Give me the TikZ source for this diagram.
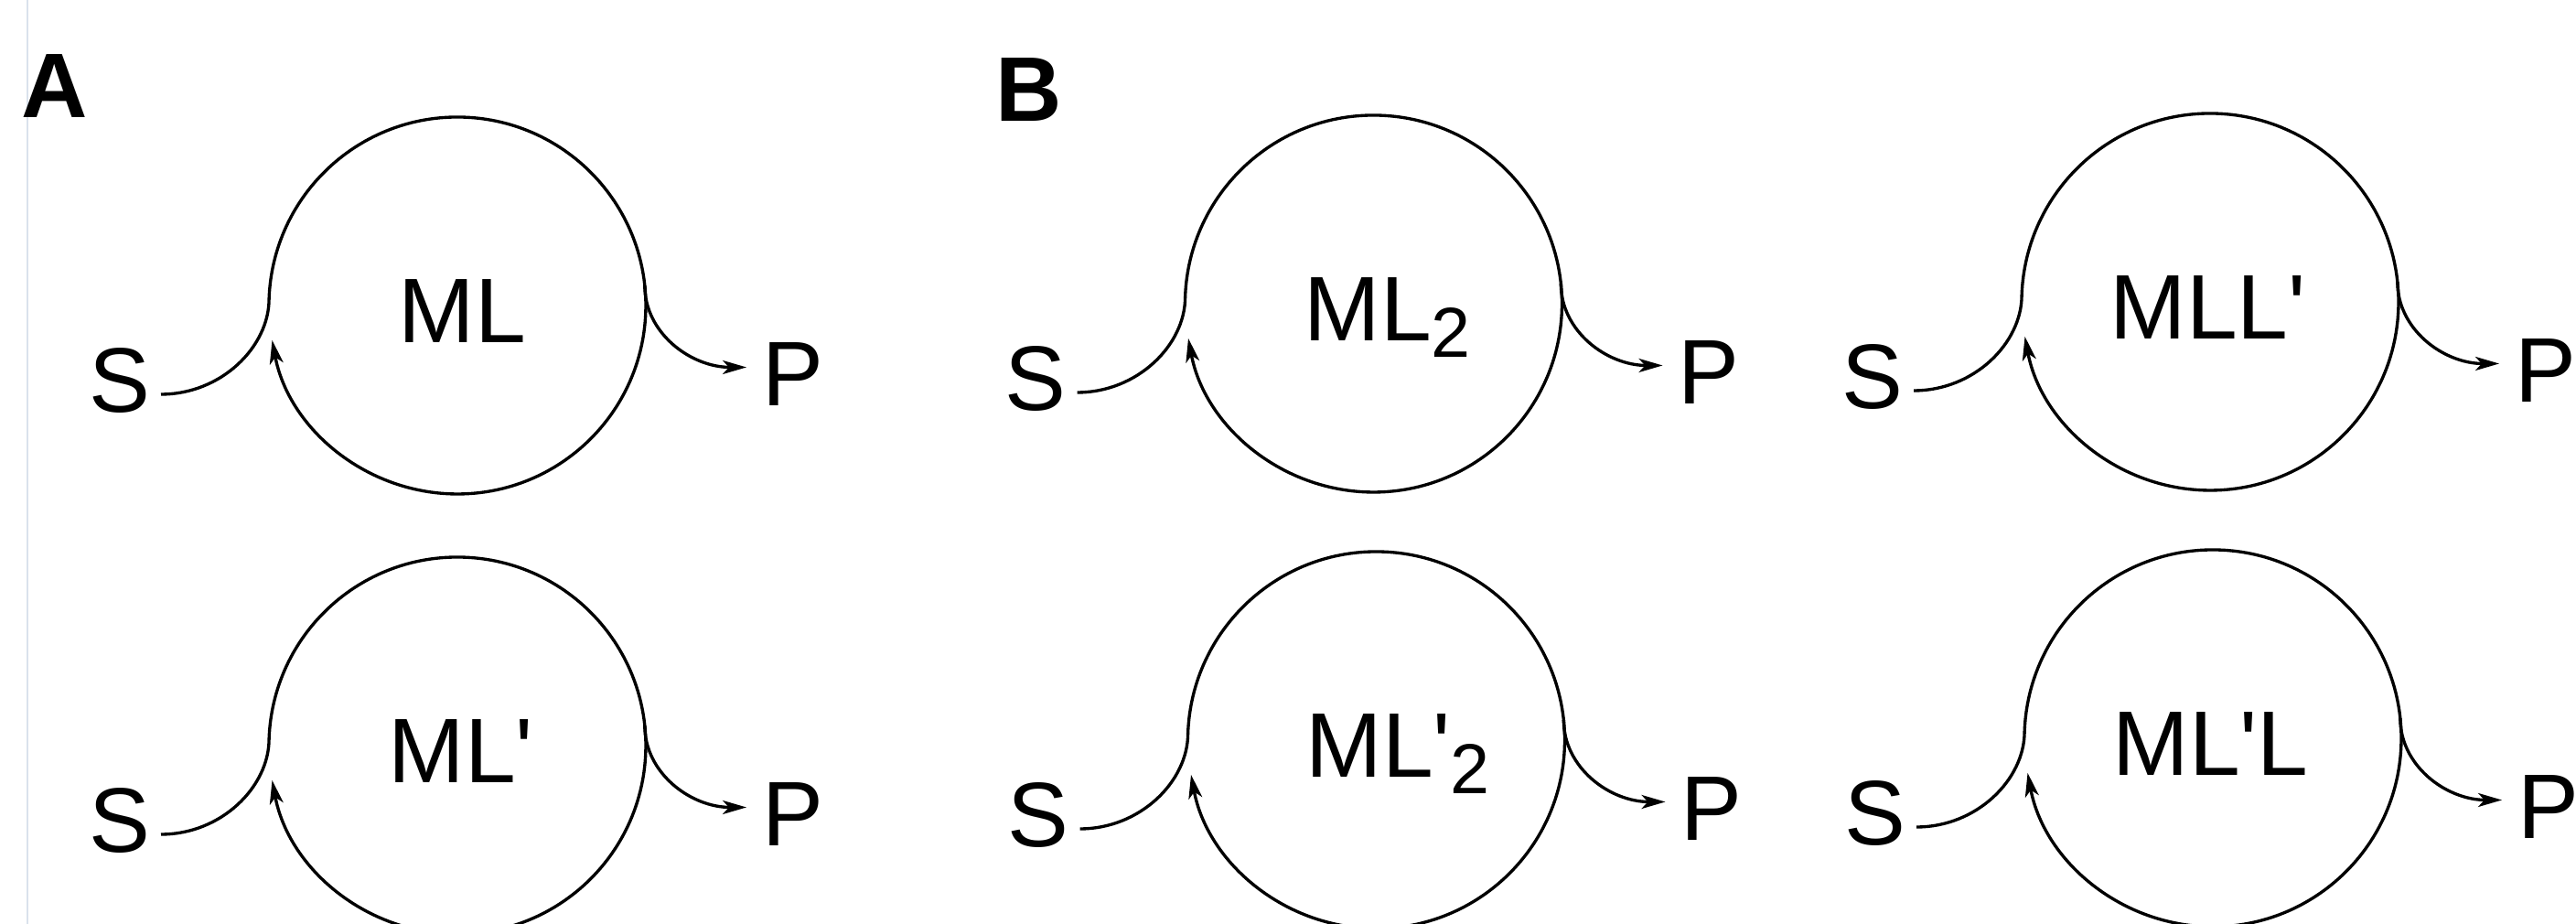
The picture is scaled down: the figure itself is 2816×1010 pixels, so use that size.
\documentclass[tikz,border=0pt]{standalone}
\usepackage{fontspec}
\newfontfamily\lsans{Liberation Sans}
\usetikzlibrary{arrows.meta}
\definecolor{faint}{RGB}{218,226,236}
\newcommand\lowtwo{\raisebox{-0.18cm}{\fontsize{22pt}{26pt}\selectfont 2}}
\tikzset{
  lbl/.style={inner sep=0pt, outer sep=0pt, anchor=base west,
              font=\lsans\fontsize{28.5pt}{34pt}\selectfont},
  panellbl/.style={lbl, font=\lsans\bfseries\fontsize{28.5pt}{34pt}\selectfont},
  flow/.style={line width=0.95pt, black},
  tip/.style={-{Stealth[length=0.26cm, width=0.15cm, inset=0.07cm]}}
}
% #1 name, #2 cx, #3 cy, #4 label, #5 label x
\newcommand\cycleunit[5]{%
  \begin{scope}[shift={(#2,#3)}]
    \node[lbl] (#1S) at (-402.7,-117) {S};
    \node[lbl] (#1P) at (333,-110) {P};
    \node[lbl] (#1M) at (#5,-40.5) {#4};
    \coordinate (#1a) at (-324,-97);
    \coordinate (#1j) at (-205.9,7.2);
    \coordinate (#1r) at (204.8,21.9);
    \coordinate (#1t) at (316,-67.5);
    \draw[flow, tip] (#1a) .. controls (-258,-97) and (-205.9,-45) .. (#1j)
      arc[start angle=178, end angle=-169.4, radius=206];
    \draw[flow, tip] (#1r) .. controls (204.8,-30) and (255,-67.5) .. (#1t);
  \end{scope}}
\begin{document}
\begin{tikzpicture}[x=0.01cm, y=0.01cm]
  \useasboundingbox (0,0) rectangle (2816,1010);
  \clip (0,0) rectangle (2816,1010);
  \fill[white] (0,0) rectangle (2816,1010);
  \draw[faint, line width=0.012cm] (30,0) -- (30,1010);
  \node[panellbl] (labA) at (23,881) {A};
  \node[panellbl] (labB) at (1088.7,877) {B};
  \cycleunit{u1}{500}{676}{ML}{-64.4}
  \cycleunit{u2}{500}{195}{ML'}{-75.4}
  \cycleunit{u3}{1501.5}{678}{ML\lowtwo}{-75.9}
  \cycleunit{u4}{1504.5}{201}{ML'\lowtwo}{-76.9}
  \cycleunit{u5}{2416}{680}{MLL'}{-109.4}
  \cycleunit{u6}{2419}{203}{ML'L}{-109.4}
\end{tikzpicture}
\end{document}
